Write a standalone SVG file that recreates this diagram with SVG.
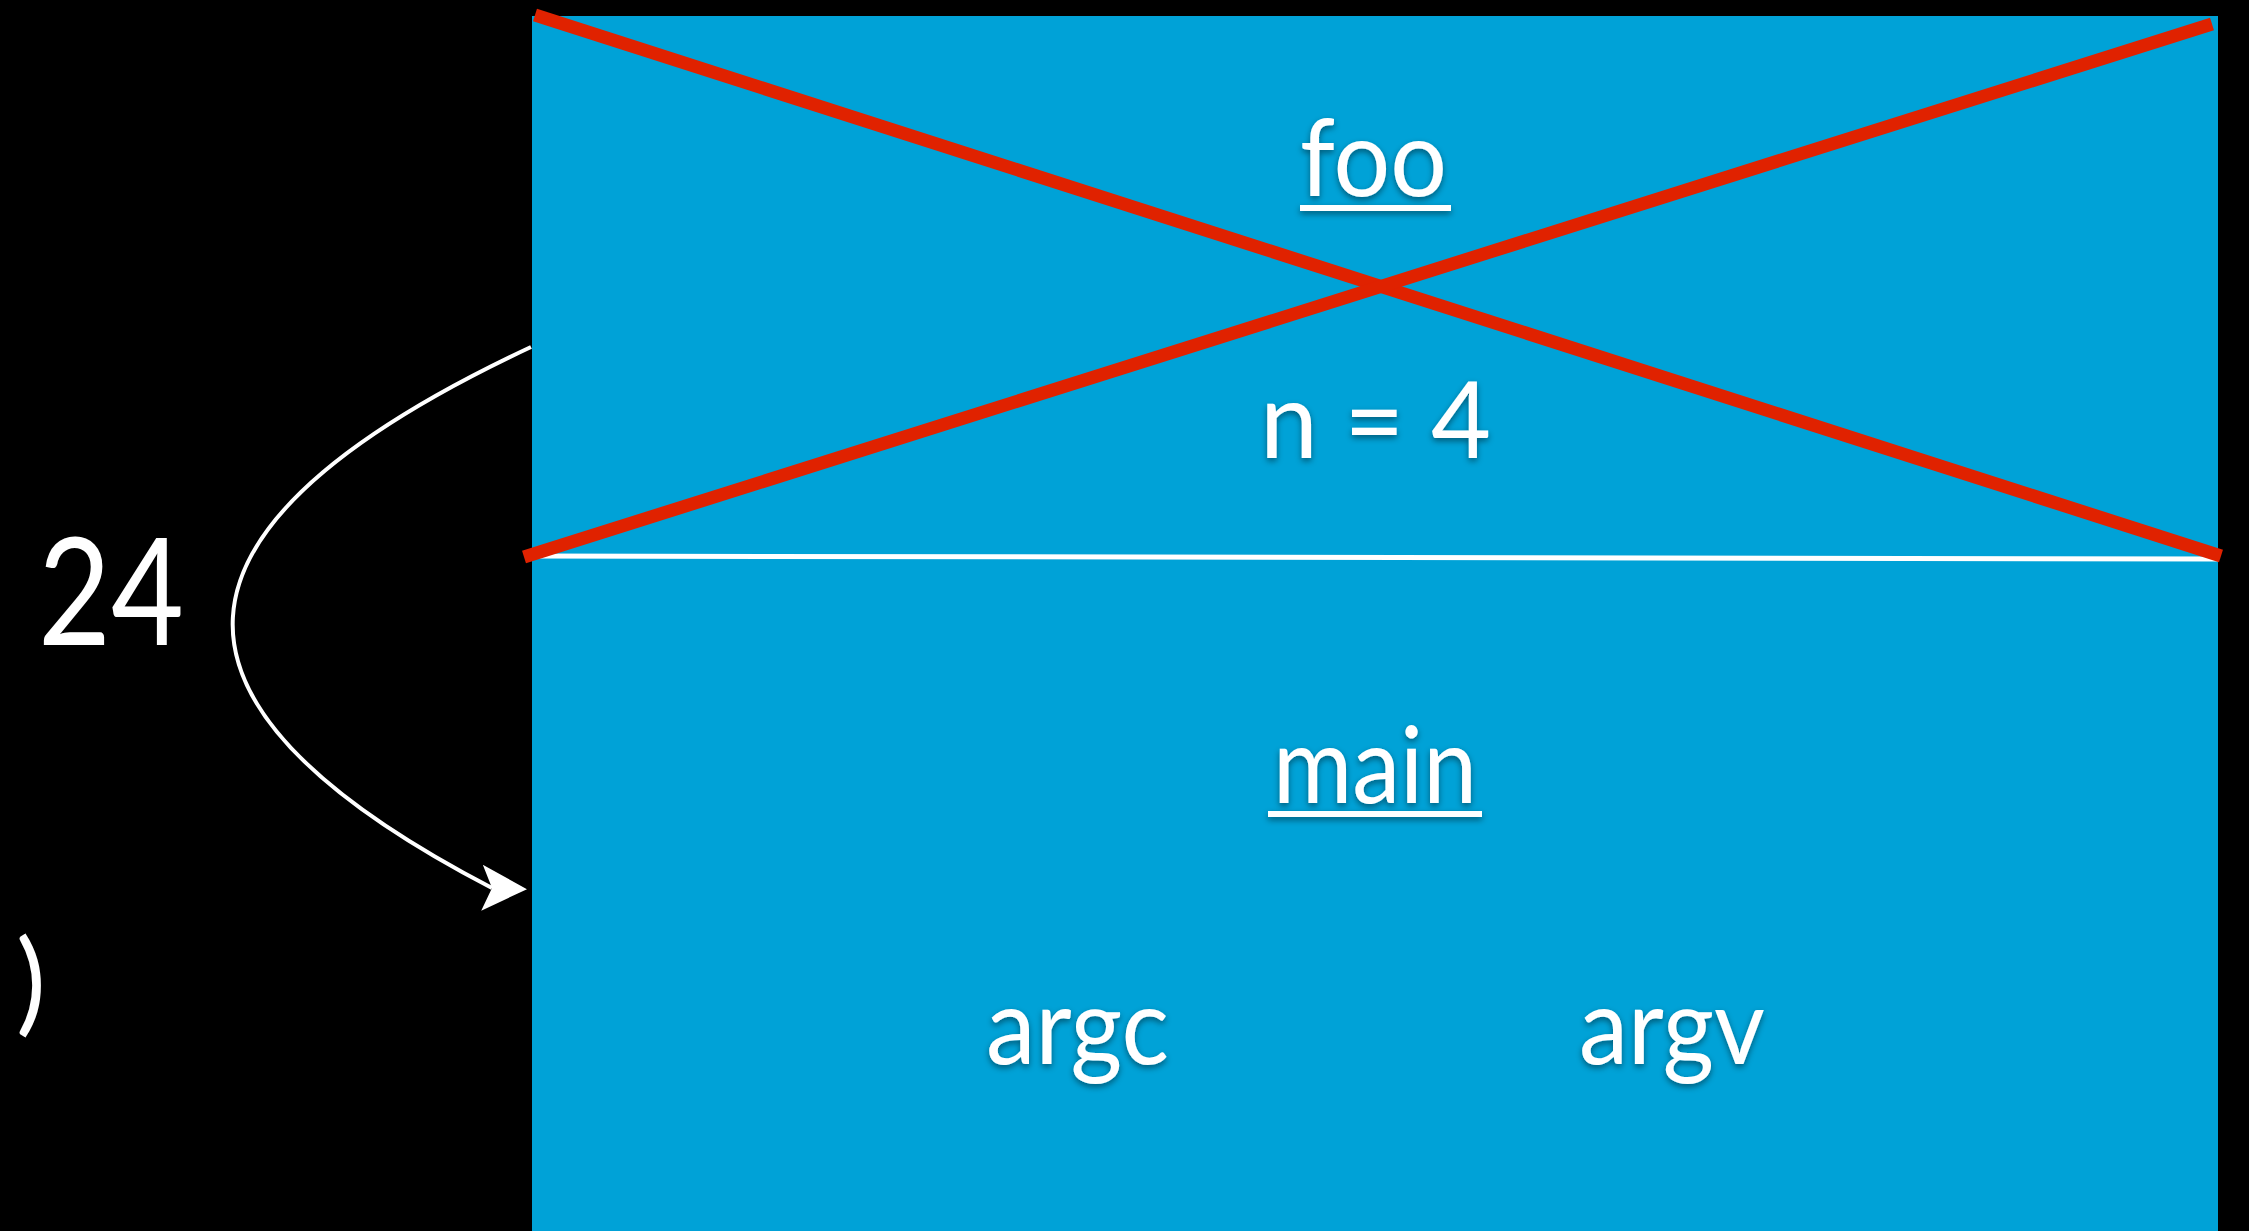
<svg xmlns="http://www.w3.org/2000/svg" width="2249" height="1231" viewBox="0 0 2249 1231">
<style>
.frame{fill:#00A2D7;}
.lbl{font-family:Lato,"Open Sans","Liberation Sans",sans-serif;fill:#ffffff;font-size:106px;}
.ul{fill:#ffffff;}
.cross{stroke:#E02200;stroke-width:13;stroke-linecap:butt;fill:none;}
.conn{stroke:#ffffff;stroke-width:4;fill:none;}
</style>
<defs>
<filter id="sh" x="-20%" y="-20%" width="140%" height="150%">
<feDropShadow dx="0" dy="3" stdDeviation="3" flood-color="#000000" flood-opacity="0.45"/>
</filter>
<marker id="arr" markerUnits="userSpaceOnUse" viewBox="0 0 46 48" markerWidth="46" markerHeight="48" refX="10" refY="24" orient="2">
<path d="M0,1 L45,24 L0,47 L10,24 Z" fill="#ffffff"/>
</marker>
</defs>
<rect x="0" y="0" width="2249" height="1231" fill="#000000"/>
<g id="foo-frame">
<rect class="frame" x="532" y="16" width="1686" height="542"/>
<g filter="url(#sh)">
<text class="lbl" x="1300" y="196" textLength="147" lengthAdjust="spacingAndGlyphs">foo</text>
<rect class="ul" x="1300" y="205" width="151" height="6"/>
<text class="lbl" x="1260" y="458" textLength="231" lengthAdjust="spacingAndGlyphs">n = 4</text>
</g>
</g>
<g id="main-frame">
<rect class="frame" x="532" y="557" width="1686" height="674"/>
<g filter="url(#sh)">
<text class="lbl" x="1273" y="803" textLength="204" lengthAdjust="spacingAndGlyphs">main</text>
<rect class="ul" x="1268" y="811" width="214" height="6"/>
<text class="lbl" x="986" y="1064" textLength="183" lengthAdjust="spacingAndGlyphs">argc</text>
<text class="lbl" x="1579" y="1064" textLength="186" lengthAdjust="spacingAndGlyphs">argv</text>
</g>
</g>
<g id="divider">
<line x1="532" y1="556" x2="2218" y2="559" stroke="#ffffff" stroke-width="5"/>
</g>
<g id="cross-out">
<line class="cross" x1="535" y1="15" x2="2221" y2="556"/>
<line class="cross" x1="524" y1="557" x2="2212" y2="24"/>
</g>
<g id="return-value">
<text class="lbl" x="38" y="645" style="font-size:150px" textLength="146" lengthAdjust="spacingAndGlyphs">24</text>
</g>
<g id="paren">
<text class="lbl" x="16" y="1021" style="font-size:112px">)</text>
</g>
<g id="connectors">
<path class="conn" d="M531,347 C140,530 140,705 492,888" marker-end="url(#arr)"/>
</g>
</svg>
